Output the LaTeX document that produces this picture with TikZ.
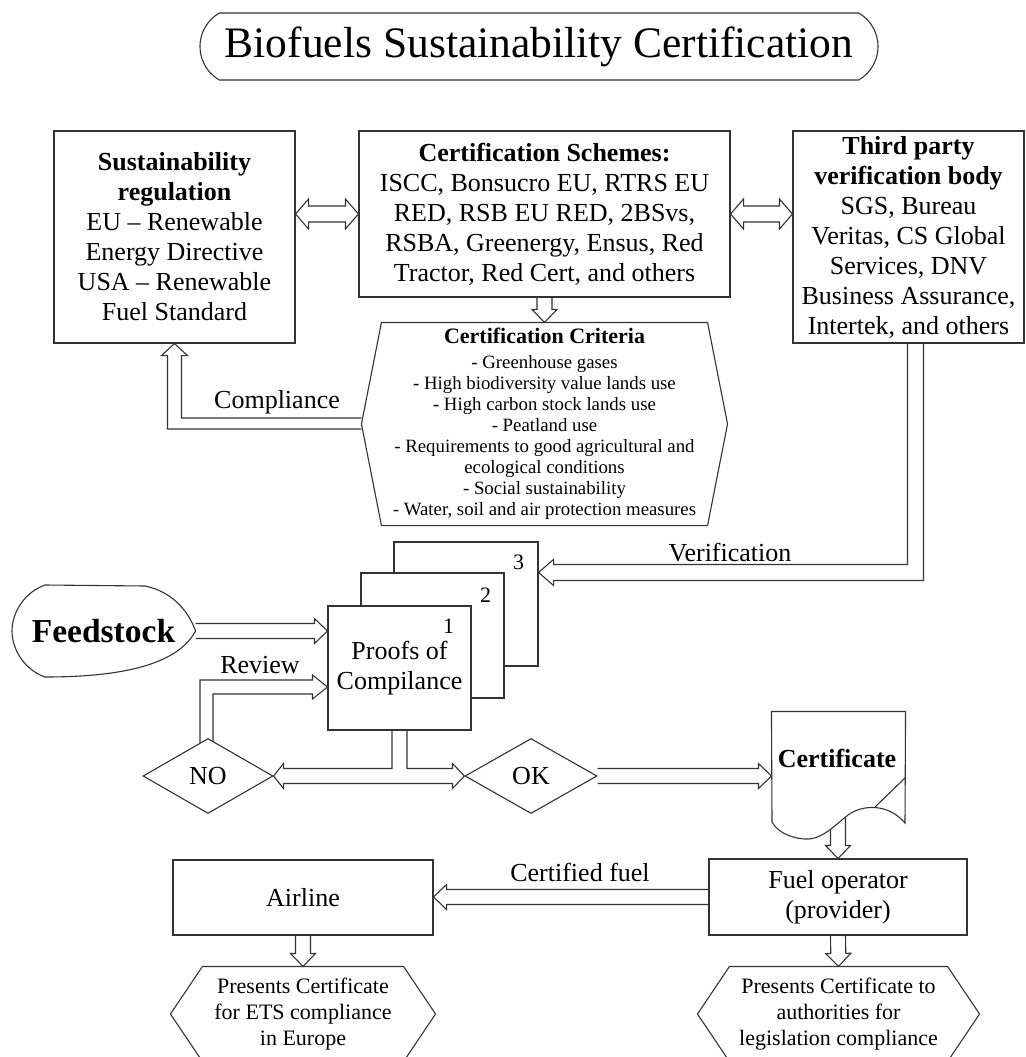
\documentclass[tikz,border=0pt]{standalone}
\usepackage{fontspec}
\setmainfont{Liberation Serif}
\usetikzlibrary{calc,shapes.geometric,shapes.misc}
\pgfdeclarelayer{bg}
\pgfsetlayers{bg,main}
\newcommand{\fs}[2]{\fontsize{#1}{#2}\selectfont}
% hollow block arrow from #1 to #2 (open tail)
\newcommand{\hollowarrow}[2]{
	\draw ($(#1)!7.5pt!90:(#2)$) -- ($(#2)!13pt!(#1)!7.5pt!90:(#2)$) -- ($(#2)!13pt!(#1)!12.5pt!90:(#2)$) -- (#2)
		-- ($(#2)!13pt!(#1)!12.5pt!-90:(#2)$) -- ($(#2)!13pt!(#1)!7.5pt!-90:(#2)$) -- ($(#1)!7.5pt!-90:(#2)$);
}
% hollow block arrow with two heads
\newcommand{\hollowboth}[2]{
	\draw (#1) -- ($(#1)!13pt!(#2)!15pt!90:(#2)$) -- ($(#1)!13pt!(#2)!8pt!90:(#2)$) -- ($(#2)!13pt!(#1)!8pt!90:(#2)$)
		-- ($(#2)!13pt!(#1)!15pt!90:(#2)$) -- (#2) -- ($(#2)!13pt!(#1)!15pt!-90:(#2)$) -- ($(#2)!13pt!(#1)!8pt!-90:(#2)$)
		-- ($(#1)!13pt!(#2)!8pt!-90:(#2)$) -- ($(#1)!13pt!(#2)!15pt!-90:(#2)$) -- cycle;
}
% hexagon frame round a node
\newcommand{\hexframe}[2]{
	\draw ([xshift=#2]#1.north west) -- ([xshift=-#2]#1.north east) -- (#1.east)
		-- ([xshift=-#2]#1.south east) -- ([xshift=#2]#1.south west) -- (#1.west) -- cycle;
}

\begin{document}
\begin{tikzpicture}[x=1pt,y=-1pt,line width=1.1pt,color=black!80,
	every node/.style={text=black},
	conn/.style={line width=1.1pt,color=black!80},
	box/.style={draw,fill=white,rectangle,inner sep=0pt,align=center,font=\fs{26}{30}},
	plain/.style={inner sep=0pt,align=center,font=\fs{26}{30}},
	hexbox/.style={inner sep=0pt,align=center,font=\fs{22}{26}},
	decision/.style={draw,fill=white,diamond,inner sep=0pt,font=\fs{26}{30}},
	pagenum/.style={inner sep=0pt,font=\fs{22}{26}},
	lbl/.style={inner sep=0pt,font=\fs{26}{30}}]
	\useasboundingbox (0,0) rectangle (1025,1057);

	\node[draw,rounded rectangle,rounded rectangle arc length=120,minimum width=678pt,minimum height=67pt,
		inner sep=0pt,font=\fs{43.5}{50}] (title) at (539,46.5) {Biofuels Sustainability Certification};

	\node[box,minimum width=241pt,minimum height=212pt] (reg) at (174.5,237)
		{\textbf{Sustainability}\\\textbf{regulation}\\EU -- Renewable\\Energy Directive\\USA -- Renewable\\Fuel Standard};
	\node[box,minimum width=371pt,minimum height=166pt] (schemes) at (544.5,214)
		{\textbf{Certification Schemes:}\\ISCC, Bonsucro EU, RTRS EU\\RED, RSB EU RED, 2BSvs,\\RSBA, Greenergy, Ensus, Red\\Tractor, Red Cert, and others};
	\node[box,minimum width=231pt,minimum height=212pt] (third) at (908.5,237)
		{\textbf{Third party}\\\textbf{verification body}\\SGS, Bureau\\Veritas, CS Global\\Services, DNV\\Business Assurance,\\Intertek, and others};

	\node[plain,font=\fs{18.8}{21},minimum width=365pt,minimum height=202pt] (crit) at (544.5,424)
		{{\fs{22}{24}\bfseries Certification Criteria}\\[4pt]- Greenhouse gases\\- High biodiversity value lands use\\- High carbon stock lands use\\- Peatland use\\- Requirements to good agricultural and\\ecological conditions\\- Social sustainability\\- Water, soil and air protection measures};
	\hexframe{crit}{20pt}

	\node[box,minimum width=144pt,minimum height=124pt] (box3) at (466,604) {};
	\node[pagenum] (num3) at ($(box3.north east)+(-20,21)$) {3};
	\node[box,minimum width=143pt,minimum height=125pt] (box2) at (432.5,635.5) {};
	\node[pagenum] (num2) at ($(box2.north east)+(-19,23)$) {2};
	\node[box,minimum width=143pt,minimum height=124pt] (box1) at (399.5,668) {Proofs of\\Compilance};
	\node[pagenum] (num1) at ($(box1.north east)+(-23,21)$) {1};

	\node[plain,font=\fs{33.5}{36}\bfseries,minimum width=183pt,minimum height=92pt] (feed) at (103.5,631) {Feedstock};
	\draw (45,585) -- (145,586) .. controls (175,592) and (190,615) .. (feed.east)
		.. controls (180,660) and (135,677) .. (45,677) .. controls (25,670) and (12,650) .. (12,631)
		.. controls (12,612) and (25,592) .. (45,585);

	\node[decision,minimum width=130pt,minimum height=75pt] (no) at (208,776) {NO};
	\node[decision,minimum width=132pt,minimum height=75pt] (ok) at (531,776) {OK};

	\node[inner sep=0pt,minimum width=133pt,minimum height=126pt] (cert) at (838.5,775) {};
	\filldraw[fill=white] (cert.north west) -- (cert.north east) -- (905,823)
		.. controls (890,805) and (865,803) .. (848,815) .. controls (835,825) and (822,840) .. (805,839)
		.. controls (788,838) and (776,830) .. (772,822) -- cycle;
	\draw (905,778) -- (875,807);
	\node[lbl,font=\fs{26}{30}\bfseries] (certtext) at (837,758) {Certificate};

	\node[box,minimum width=258pt,minimum height=76pt] (fuel) at (838,897) {Fuel operator\\(provider)};
	\node[box,minimum width=260pt,minimum height=75pt] (air) at (303,897.5) {Airline};

	\node[hexbox,minimum width=264pt,minimum height=94pt] (airhex) at (303,1014)
		{Presents Certificate\\for ETS compliance\\in Europe};
	\hexframe{airhex}{32pt}
	\node[hexbox,minimum width=281pt,minimum height=94pt] (fuelhex) at (838.5,1014)
		{Presents Certificate to\\authorities for\\legislation compliance};
	\hexframe{fuelhex}{32pt}

	\node[lbl] (compl) at (277,402) {Compliance};
	\node[lbl] (review) at (260,665) {Review};
	\node[lbl] (verif) at (730,553) {Verification};
	\node[lbl] (certfuel) at (580,872) {Certified fuel};

	\begin{pgfonlayer}{bg}
	\begin{scope}[conn]
	\coordinate (regout) at (schemes.west -| reg.east);
	\hollowboth{regout}{schemes.west}
	\coordinate (thirdin) at (schemes.east -| third.west);
	\hollowboth{schemes.east}{thirdin}
	\hollowarrow{schemes.south}{crit.north}

	\draw ($(crit.west)+(0,5)$) -| ($(reg.south)+(-7,12)$) -- ++(-6,0) -- (reg.south) -- ++(13,12) -- ++(-6,0)
		|- ($(crit.west)+(0,-6)$);

	\draw ($(third.south)+(-1,0)$) |- ($(box3.north east)+(15,23)$) -- ++(0,-5) -- ($(box3.north east)+(0,31)$)
		-- ++(15,13) -- ++(0,-5) -| ($(third.south)+(15,0)$);

	\coordinate (feedin) at (feed.east -| box1.west);
	\hollowarrow{feed.east}{feedin}

	\draw ($(no.center)+(-8,0)$) |- ($(box1.west)+(-15,12)$) -- ++(0,-5) -- ($(box1.west)+(0,19)$)
		-- ++(-15,12) -- ++(0,-5) -| ($(no.center)+(5,0)$);

	\draw ($(box1.south)+(-7.5,0)$) |- ($(no.east)+(10,-7.5)$) -- ++(0,-5) -- (no.east) -- ++(10,12.5) -- ++(0,-5)
		-- ($(ok.west)+(-12,7.5)$) -- ++(0,5) -- (ok.west) -- ++(-12,-12.5) -- ++(0,5) -| ($(box1.south)+(7.5,0)$);

	\coordinate (certin) at (ok.east -| cert.west);
	\hollowarrow{ok.east}{certin}
	\coordinate (certout) at ($(cert.south)+(-0.5,-23)$);
	\hollowarrow{certout}{fuel.north}
	\coordinate (airin) at (fuel.west -| air.east);
	\hollowarrow{fuel.west}{airin}
	\hollowarrow{air.south}{airhex.north}
	\hollowarrow{fuel.south}{fuelhex.north}
	\end{scope}
	\end{pgfonlayer}
\end{tikzpicture}
\end{document}
